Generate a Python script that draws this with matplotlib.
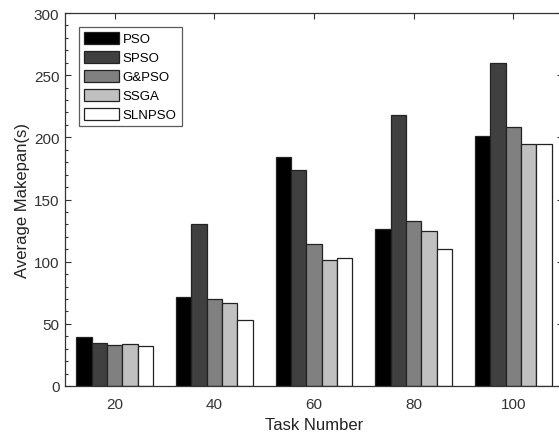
import matplotlib
matplotlib.use("Agg")
import matplotlib.pyplot as plt
import numpy as np
from matplotlib.patches import Patch
from matplotlib.ticker import MultipleLocator

plt.rcParams['font.family'] = ['Liberation Sans', 'DejaVu Sans']

categories = ['20', '40', '60', '80', '100']
series_names = ['PSO', 'SPSO', 'G&PSO', 'SSGA', 'SLNPSO']
pso = [39.6, 71.9, 184.5, 126.0, 201.4]
spso = [34.8, 130.3, 174.0, 218.0, 260.0]
gpso = [33.2, 70.0, 114.2, 133.0, 208.6]
ssga = [34.0, 66.8, 101.1, 124.7, 194.4]
slnpso = [32.4, 52.9, 103.2, 110.0, 194.7]
series = [pso, spso, gpso, ssga, slnpso]
colors = ['#000000', '#404040', '#808080', '#c0c0c0', '#ffffff']

fig = plt.figure(figsize=(5.59, 4.35), dpi=100)
ax = fig.add_axes([65/559, 1-387/435, 498/559, 373/435])

x = np.arange(1, len(categories)+1)
n = len(series)
group_w = 0.77
bw = group_w / n
for i, (vals, c) in enumerate(zip(series, colors)):
    offs = (i - (n-1)/2) * bw
    ax.bar(x + offs, vals, bw, color=c, edgecolor='#222222', linewidth=0.9, zorder=2)

ax.set_xlim(0.5, 5.5)
ax.set_ylim(0, 300)
ax.set_xticks(x)
ax.set_xticklabels(categories)
ax.yaxis.set_major_locator(MultipleLocator(50))
ax.yaxis.set_minor_locator(MultipleLocator(10))
ax.tick_params(axis='both', which='both', direction='in', top=True, right=True,
               labelsize=11, colors='#333333', width=0.8)
ax.tick_params(axis='both', which='major', length=4.5)
ax.tick_params(axis='x', which='major', pad=8)
ax.tick_params(axis='y', which='major', pad=4)
ax.tick_params(axis='both', which='minor', length=2.2)
ax.tick_params(axis='x', which='minor', top=False, bottom=False)
for s in ax.spines.values():
    s.set_color('#333333')
    s.set_linewidth(0.9)

ax.set_xlabel('Task Number', fontsize=12, labelpad=4, color='#222222')
ax.set_ylabel('Average Makepan(s)', fontsize=12, labelpad=3, color='#222222')

handles = [Patch(facecolor=c, edgecolor='#222222', linewidth=0.9) for c in colors]
leg = ax.legend(handles, series_names, loc='upper left', bbox_to_anchor=(0.028, 0.9625),
                fontsize=9.5, handlelength=2.65, handleheight=1.0, labelspacing=0.42,
                handletextpad=0.28, borderpad=0.38, borderaxespad=0, frameon=True,
                fancybox=False)
leg.get_frame().set_edgecolor('#333333')
leg.get_frame().set_linewidth(0.9)

fig.savefig('out.png', dpi=100)
